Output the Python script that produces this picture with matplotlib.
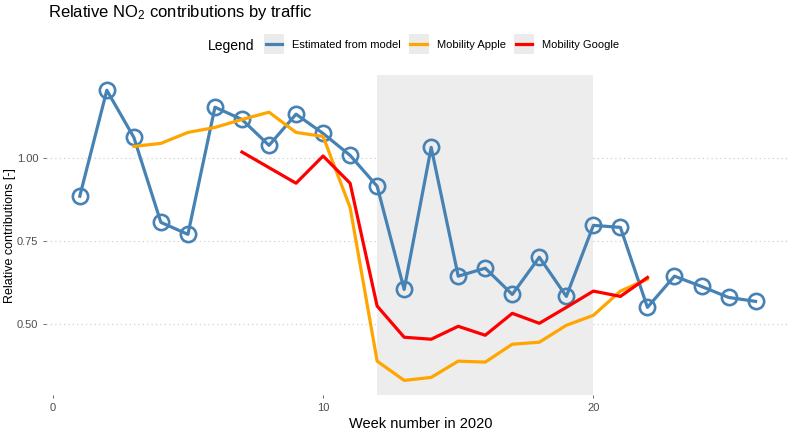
import numpy as np
import matplotlib
matplotlib.use("Agg")
import matplotlib.pyplot as plt
from matplotlib.patches import Rectangle
from matplotlib.lines import Line2D
from matplotlib.legend_handler import HandlerLine2D

plt.rcParams['font.family'] = ['Liberation Sans', 'DejaVu Sans']
plt.rcParams['mathtext.fontset'] = 'custom'
plt.rcParams['mathtext.rm'] = 'Liberation Sans'
plt.rcParams['mathtext.default'] = 'regular'

# Data
model_weeks = list(range(1, 27))
model_vals = [0.886, 1.205, 1.063, 0.807, 0.771, 1.154, 1.117, 1.039, 1.133, 1.075,
              1.009, 0.916, 0.605, 1.033, 0.645, 0.669, 0.590, 0.702, 0.584, 0.798,
              0.792, 0.551, 0.645, 0.614, 0.581, 0.569]
apple_weeks = list(range(3, 23))
apple_vals = [1.036, 1.045, 1.078, 1.093, 1.117, 1.139, 1.078, 1.066, 0.852, 0.389,
              0.331, 0.340, 0.389, 0.386, 0.440, 0.446, 0.497, 0.527, 0.600, 0.636]
google_weeks = [7, 9, 10, 11, 12, 13, 14, 15, 16, 17, 18, 19, 20, 21, 22]
google_vals = [1.019, 0.925, 1.007, 0.925, 0.555, 0.461, 0.455, 0.494, 0.467, 0.533,
               0.503, 0.551, 0.600, 0.584, 0.641]
lockdown_start, lockdown_end = 12, 20
xticks = [0, 10, 20]
yticks = [0.50, 0.75, 1.00]

BLUE = '#4682B4'
ORANGE = '#FFA500'
RED = '#FF0000'

fig = plt.figure(figsize=(7.89, 4.32), dpi=100)
ax = fig.add_axes([46/789, 1 - 395/432, (788 - 46)/789, (395 - 75)/432])

ax.axvspan(lockdown_start, lockdown_end, color='#EDEDED', zorder=1, lw=0)
ax.plot(model_weeks, model_vals, color=BLUE, lw=2.3, marker='o', ms=11,
        mfc='none', mec=BLUE, mew=1.9, zorder=3)
ax.plot(apple_weeks, apple_vals, color=ORANGE, lw=2.3, zorder=4)
ax.plot(google_weeks, google_vals, color=RED, lw=2.3, zorder=5)

ax.set_xlim(-0.25, 27.2)
ax.set_ylim(0.287, 1.251)
ax.set_xticks(xticks)
ax.set_yticks(yticks)
ax.set_yticklabels([f'{v:.2f}' for v in yticks])
ax.tick_params(axis='both', labelsize=8, labelcolor='#4D4D4D', color='#4D4D4D',
               length=2.5, width=0.6, pad=3)
for s in ax.spines.values():
    s.set_visible(False)
ax.grid(axis='y', linestyle=(0, (1, 2.5)), color='#CFCFCF', lw=0.9, zorder=0)
ax.set_axisbelow(True)
fig.text(421/789, 1 - 424/432, 'Week number in 2020', fontsize=10.5,
         ha='center', va='center')
fig.text(10/789, 1 - 236/432, 'Relative contributions [-]', fontsize=9,
         rotation=90, ha='center', va='center')

fig.text(48/789, 1 - 12/432, r'Relative NO$_2$ contributions by traffic',
         fontsize=12, ha='left', va='center')


class KeyHandler(HandlerLine2D):
    def create_artists(self, legend, orig_handle, xdescent, ydescent, width, height,
                       fontsize, trans):
        side = width
        rect = Rectangle((-xdescent, -ydescent + height / 2 - side / 2), side, side,
                         facecolor='#EBEBEB', edgecolor='none', transform=trans)
        arts = super().create_artists(legend, orig_handle, xdescent, ydescent,
                                      width, height, fontsize, trans)
        for a in arts:
            if isinstance(a, Line2D):
                xd = np.asarray(a.get_xdata(), dtype=float)
                yd = np.asarray(a.get_ydata(), dtype=float)
                a.set_data([xd.min() + width * 0.08, xd.max() - width * 0.08],
                           [yd[0], yd[0]])
        return [rect] + arts


handles = [Line2D([], [], color=c, lw=2.3) for c in (BLUE, ORANGE, RED)]
labels = ['Estimated from model', 'Mobility Apple', 'Mobility Google']
fig.text(208/789, 1 - 46/432, 'Legend', fontsize=10, ha='left', va='center')
leg = fig.legend(handles, labels, loc='center left', bbox_to_anchor=(264/789, 1 - 45/432),
                 ncol=3, frameon=False, fontsize=8, handlelength=1.8, handletextpad=0.7,
                 columnspacing=0.75, borderpad=0, borderaxespad=0,
                 handler_map={Line2D: KeyHandler()})

fig.savefig('out.png', dpi=100)
